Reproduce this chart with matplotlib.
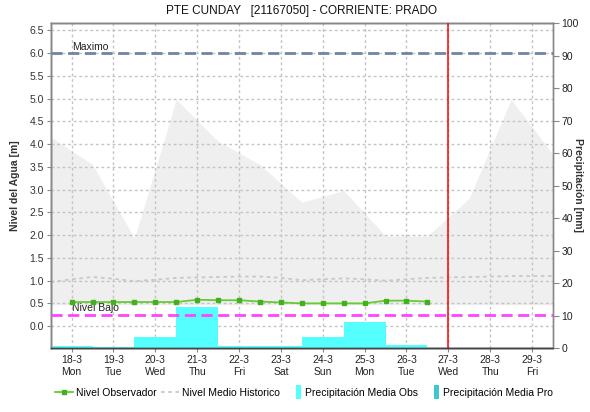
import numpy as np
import matplotlib
matplotlib.use("Agg")
import matplotlib.pyplot as plt
from matplotlib.lines import Line2D
from matplotlib.patches import Patch, Rectangle
from matplotlib.legend_handler import HandlerPatch

plt.rcParams['font.family'] = ['Liberation Sans', 'DejaVu Sans']

# ---- data ----
day_labels = ['18-3', '19-3', '20-3', '21-3', '22-3', '23-3',
              '24-3', '25-3', '26-3', '27-3', '28-3', '29-3']
weekday_labels = ['Mon', 'Tue', 'Wed', 'Thu', 'Fri', 'Sat',
                  'Sun', 'Mon', 'Tue', 'Wed', 'Thu', 'Fri']

# observed level, every 12 h from 18-3 00:00 (day index units)
obs_x = [0, 0.5, 1, 1.5, 2, 2.5, 3, 3.5, 4, 4.5, 5, 5.5, 6, 6.5, 7, 7.5, 8, 8.5]
obs_level = [0.53, 0.53, 0.53, 0.53, 0.53, 0.53, 0.58, 0.57, 0.57, 0.54,
             0.52, 0.50, 0.50, 0.50, 0.50, 0.56, 0.56, 0.54]

# historical envelope (max / min) at half-day steps
hist_x = [-0.5, 0.5, 1.5, 2.5, 3.5, 4.5, 5.5, 6.5, 7.5, 8.5, 9.5, 10.5, 11.5]
hist_max = [4.16, 3.55, 1.93, 4.98, 4.06, 3.55, 2.72, 2.98, 1.98, 1.98, 2.81, 4.98, 3.77]
hist_min = [0.47, 0.47, 0.47, 0.47, 0.47, 0.47, 0.47, 0.47, 0.47, 0.47, 0.47, 0.47, 0.47]

# historical mean level
mean_x = [-0.5, 0, 0.5, 1, 1.5, 2, 2.5, 3, 3.5, 4, 4.5, 5, 5.5, 6, 6.5, 7,
          7.5, 8, 8.5, 9, 9.5, 10, 10.5, 11, 11.5]
mean_level = [0.97, 1.03, 1.08, 1.04, 0.99, 1.02, 1.06, 1.07, 1.08, 1.09, 1.09,
              1.06, 1.01, 1.03, 1.05, 1.03, 1.00, 1.03, 1.06, 1.07, 1.08, 1.09,
              1.10, 1.10, 1.10]

# daily precipitation [mm]
precip_obs_x = [0, 1, 2, 3, 4, 5, 6, 7, 8]
precip_obs = [0.5, 0.4, 3.4, 12.6, 0.5, 0.5, 3.4, 7.9, 0.8]
precip_pro_x = []
precip_pro = []

level_max = 6.0
level_low = 0.25
now_x = 9

# ---- figure ----
W, H = 590, 412
fig = plt.figure(figsize=(W / 100, H / 100), dpi=100)
fig.patch.set_facecolor('white')
L, R, T, B = 50.7, 553, 23, 348
rect = [L / W, 1 - B / H, (R - L) / W, (B - T) / H]

ax = fig.add_axes(rect)              # levels, background
ax2 = ax.twinx()                     # precipitation
ax3 = ax.twinx()                     # reference lines on top
for a in (ax2, ax3):
    a.patch.set_visible(False)

xlim = (-0.5, 11.5)
ylim = (-0.48, 6.66)
for a in (ax, ax3):
    a.set_xlim(*xlim)
    a.set_ylim(*ylim)
ax2.set_ylim(0, 100)

grid_kw = dict(color='#c4c4c4', linestyle=(0, (2, 2)), linewidth=1.0)

ax.fill_between(hist_x, hist_min, hist_max, color='#efefef', lw=0, zorder=0.2)
ax.set_axisbelow(True)
ax.grid(True, **grid_kw)
ax.plot(mean_x, mean_level, color='#c8c8c8', lw=1.3, linestyle=(0, (2, 2)), zorder=2)

ax2.bar(precip_obs_x, precip_obs, width=1.0, color='#55ffff', lw=0, zorder=2)
ax2.bar(precip_pro_x, precip_pro, width=1.0, color='#40c8c8', lw=0, zorder=2)

ax3.axhline(level_max, color='#7282a8', lw=2, linestyle=(0, (4, 2)), zorder=3)
ax3.axhline(level_low, color='#ff44ff', lw=2, linestyle=(0, (4, 2)), zorder=3)
ax3.axvline(now_x, color='#ff0000', lw=1.1, zorder=4)
ax3.plot(obs_x, obs_level, color='#66cc33', lw=1.3, marker='s', markersize=3.0,
         markerfacecolor='#44b020', markeredgecolor='#44b020', zorder=5)
ax3.text(0, level_max + 0.03, 'Maximo', fontsize=7.5, color='#222222',
         ha='left', va='bottom')
ax3.text(0, level_low + 0.03, 'Nivel Bajo', fontsize=7.5, color='#222222',
         ha='left', va='bottom')

# axes styling
ax.set_xticks(range(len(day_labels)))
ax.set_xticklabels([f'{d}\n{w}' for d, w in zip(day_labels, weekday_labels)],
                   fontsize=7.5, color='#222222', linespacing=1.25)
yt = np.arange(0, 6.51, 0.5)
ax.set_yticks(yt)
ax.set_yticklabels([f'{v:.1f}' for v in yt], fontsize=7.5, color='#333333')
ax.tick_params(axis='both', direction='out', length=3, color='#888888', pad=2)
ax2.set_yticks(range(0, 101, 10))
ax2.tick_params(axis='y', direction='out', length=4, color='#888888',
                labelsize=7.5, labelcolor='#222222', pad=2)
ax3.set_yticks([])
ax3.tick_params(axis='both', length=0, labelleft=False, labelright=False,
                labelbottom=False)

for a in (ax, ax2, ax3):
    for s in a.spines.values():
        s.set_color('#888888')
        s.set_linewidth(1.0)
    a.spines['bottom'].set_color('#444444')
    a.spines['bottom'].set_linestyle((0, (1, 1)))
ax3.spines['right'].set_visible(False)

ax.set_ylabel('Nivel del Agua [m]', fontsize=7.5, fontweight='bold',
              color='#333333')
ax.yaxis.set_label_coords((20 - L) / (R - L), 0.5)
ax2.set_ylabel('Precipitación [mm]', fontsize=7.5, fontweight='bold',
               color='#333333', rotation=270, va='center')
ax2.yaxis.set_label_coords((578 - L) / (R - L), 0.5)

fig.text(0.5 * (L + R) / W, 1 - 11 / H,
         'PTE CUNDAY   [21167050] - CORRIENTE: PRADO',
         fontsize=8.5, ha='center', va='center', color='#111111')


class NarrowBox(HandlerPatch):
    def create_artists(self, legend, orig_handle, xdescent, ydescent,
                       width, height, fontsize, trans):
        w, h = 0.55 * fontsize, 1.35 * fontsize
        x0 = -xdescent + width - w
        y0 = -ydescent + height / 2 - h / 2
        r = Rectangle((x0, y0), w, h, facecolor=orig_handle.get_facecolor(),
                      edgecolor='none', transform=trans)
        return [r]


handles = [
    Line2D([], [], color='#66cc33', lw=1.3, marker='s', markersize=3.0,
           markerfacecolor='#44b020', markeredgecolor='#44b020'),
    Line2D([], [], color='#c8c8c8', lw=1.3, linestyle=(0, (2, 2))),
    Patch(facecolor='#55ffff', edgecolor='none'),
    Patch(facecolor='#40c8c8', edgecolor='none'),
]
labels = ['Nivel Observador', 'Nivel Medio Historico',
          'Precipitación Media Obs', 'Precipitación Media Pro']
fig.legend(handles, labels, loc='center', bbox_to_anchor=(0.515, 1 - 393 / H),
           ncol=4, frameon=False, fontsize=7.5, handlelength=1.7,
           handletextpad=0.3, columnspacing=0.4,
           handler_map={Patch: NarrowBox()})

fig.savefig('out.png', dpi=100, facecolor='white')
